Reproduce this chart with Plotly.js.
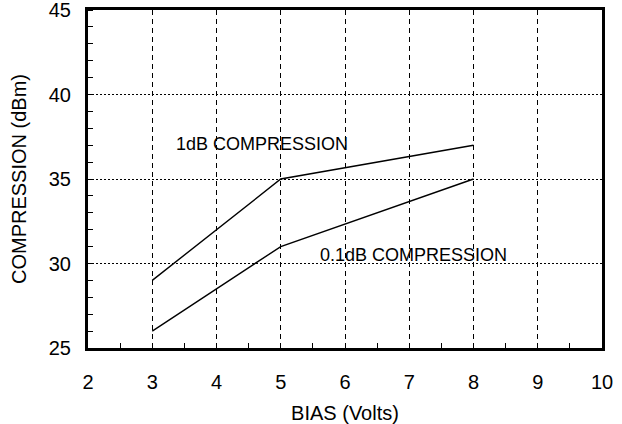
<!DOCTYPE html>
<html><head><meta charset="utf-8">
<script src="https://cdn.plot.ly/plotly-3.0.1.min.js"></script>
<style>html,body{margin:0;padding:0;background:#fff}</style>
</head><body>
<div id="chart" style="width:622px;height:424px"></div>
<script>
var bias = [3, 5, 8];
var comp1dB = [29, 35, 37];
var comp01dB = [26, 31, 35];
var xTicks = [2, 3, 4, 5, 6, 7, 8, 9, 10];
var yTicks = [25, 30, 35, 40, 45];
var label1 = "1dB COMPRESSION";
var label01 = "0.1dB COMPRESSION";

var fontFam = "Liberation Sans, Arial, sans-serif";
var traces = [
  {x: bias, y: comp1dB, mode: "lines", line: {color: "#000", width: 1.4}, showlegend: false, hoverinfo: "skip"},
  {x: bias, y: comp01dB, mode: "lines", line: {color: "#000", width: 1.4}, showlegend: false, hoverinfo: "skip"}
];
var layout = {
  width: 622, height: 424,
  margin: {l: 88, r: 20, t: 10, b: 76},
  paper_bgcolor: "#fff", plot_bgcolor: "#fff",
  font: {family: fontFam, color: "#000", size: 20},
  xaxis: {
    range: [2, 10], tickvals: xTicks, ticktext: xTicks.map(String),
    showgrid: true, gridcolor: "#000", gridwidth: 1, griddash: "5px,4px",
    showline: true, linecolor: "#000", linewidth: 3, mirror: true,
    ticks: "", zeroline: false, tickfont: {size: 20}, ticklabelstandoff: 14, ticklabeloverflow: "allow",
    minor: {ticks: "inside", tickvals: [2.5,3.5,4.5,5.5,6.5,7.5,8.5,9.5], ticklen: 5, tickcolor: "#000", tickwidth: 1, showgrid: false},
    title: {text: "BIAS (Volts)", font: {size: 20}, standoff: 14}
  },
  yaxis: {
    range: [25, 45], tickvals: yTicks, ticktext: yTicks.map(String),
    showgrid: true, gridcolor: "#000", gridwidth: 1, griddash: "2px,2px",
    showline: true, linecolor: "#000", linewidth: 3, mirror: true,
    ticks: "", zeroline: false, tickfont: {size: 20}, ticklabelstandoff: 10, ticklabeloverflow: "allow",
    minor: {ticks: "inside", dtick: 1, ticklen: 5, tickcolor: "#000", tickwidth: 1, showgrid: false},
    title: {text: "COMPRESSION (dBm)", font: {size: 20}, standoff: 17}
  },
  annotations: [
    {x: 4.71, y: 37.07, xref: "x", yref: "y", text: label1, showarrow: false, font: {size: 18, color: "#000"}},
    {x: 7.07, y: 30.5, xref: "x", yref: "y", text: label01, showarrow: false, font: {size: 18, color: "#000"}}
  ]
};
Plotly.newPlot("chart", traces, layout, {displayModeBar: false, staticPlot: true});
</script>
</body></html>
